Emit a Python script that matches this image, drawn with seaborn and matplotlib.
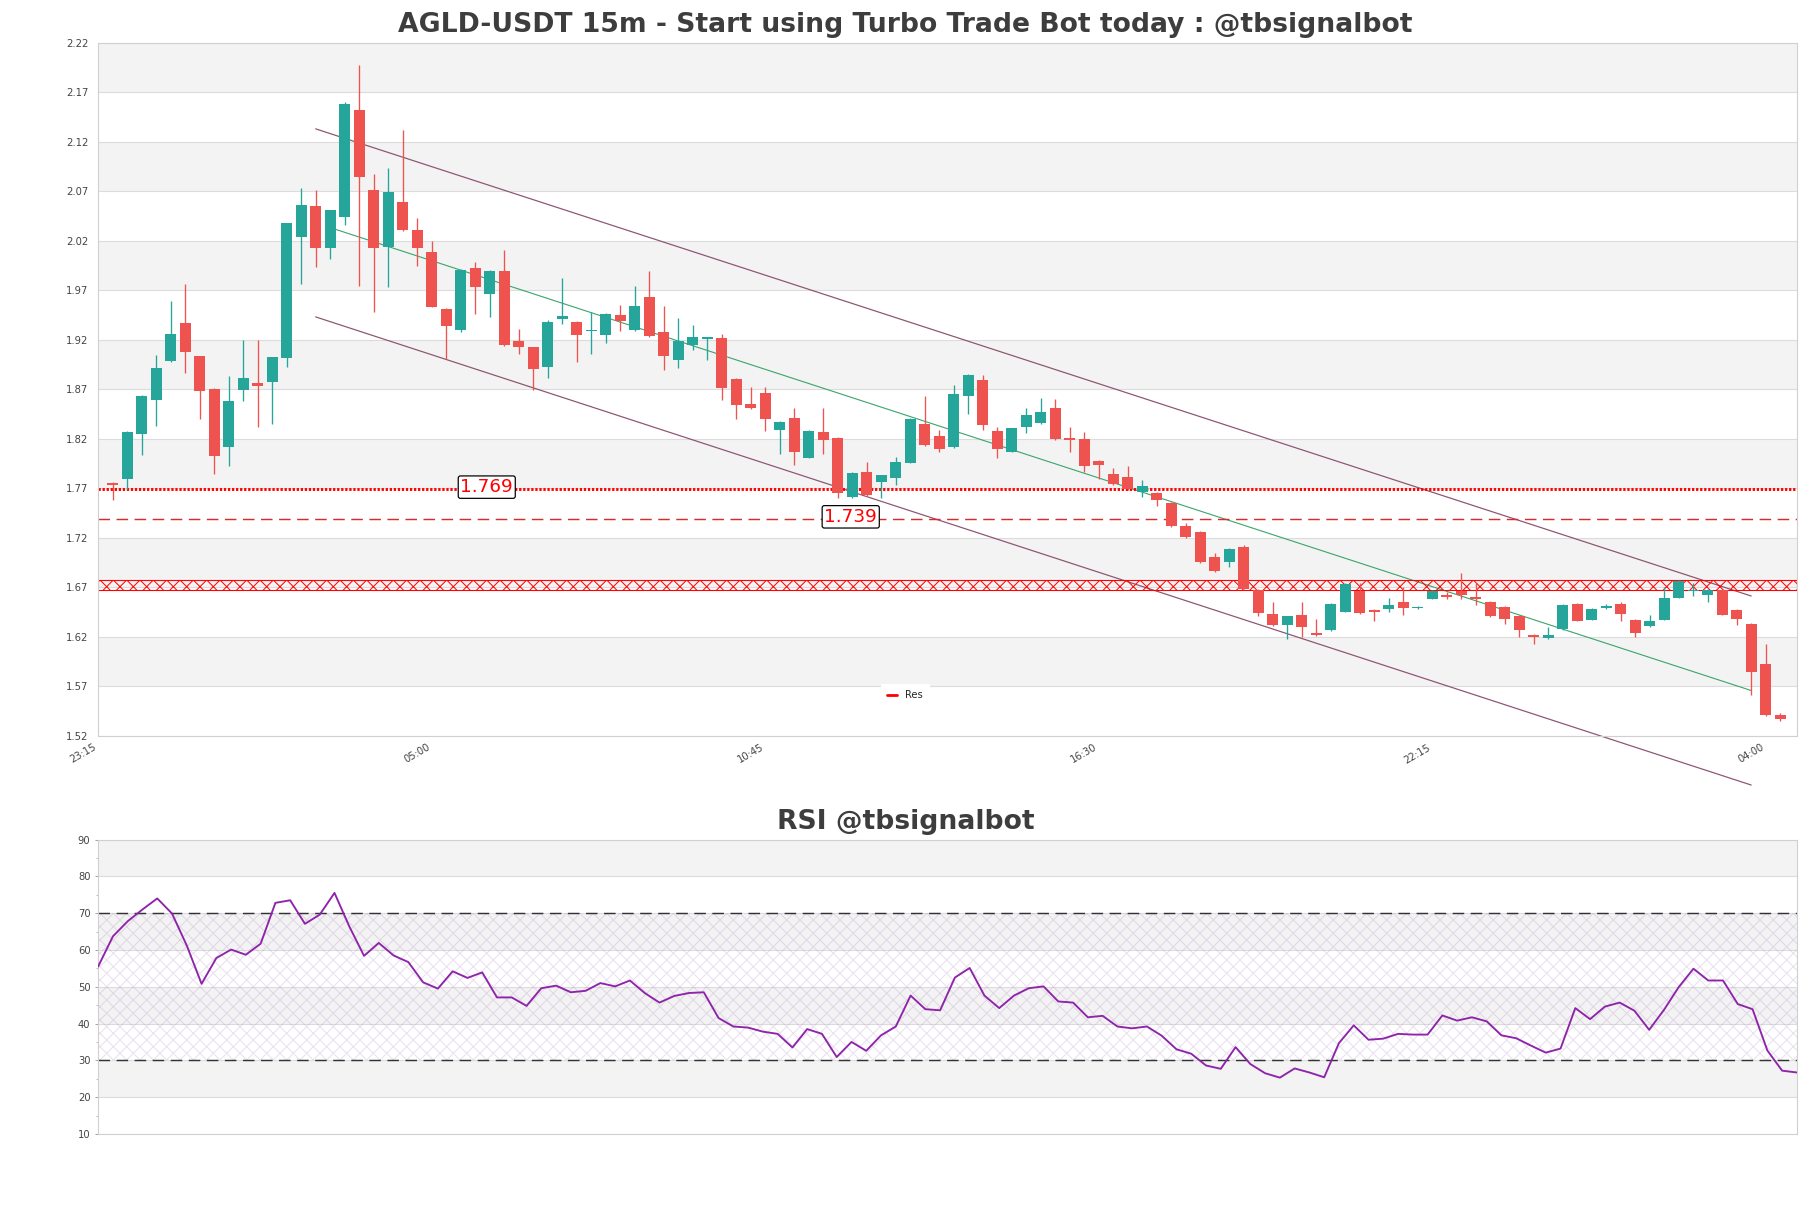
"""
AGLD-USDT 15m candle chart with channel, levels and RSI panel.
Values read off the reference picture.
"""

import numpy as np
import pandas as pd
import matplotlib
matplotlib.use("Agg")
import matplotlib.pyplot as plt
from matplotlib.lines import Line2D
import seaborn as sns

# =====================================================================
# DATA
# =====================================================================
TITLE = "AGLD-USDT 15m - Start using Turbo Trade Bot today : @tbsignalbot"
RSI_TITLE = "RSI @tbsignalbot"

opens = [1.775, 1.779, 1.825, 1.859, 1.898, 1.937, 1.903, 1.870, 1.812, 1.869,
         1.876, 1.877, 1.901, 2.024, 2.055, 2.013, 2.044, 2.152, 2.071, 2.014,
         2.059, 2.031, 2.009, 1.951, 1.930, 1.992, 1.966, 1.989, 1.919, 1.913,
         1.892, 1.941, 1.938, 1.929, 1.925, 1.945, 1.930, 1.963, 1.928, 1.899,
         1.915, 1.921, 1.922, 1.880, 1.855, 1.866, 1.829, 1.841, 1.800, 1.827,
         1.821, 1.761, 1.786, 1.776, 1.780, 1.795, 1.835, 1.823, 1.812, 1.863,
         1.879, 1.828, 1.807, 1.832, 1.836, 1.851, 1.820, 1.820, 1.797, 1.784,
         1.781, 1.766, 1.765, 1.755, 1.732, 1.726, 1.700, 1.695, 1.711, 1.667,
         1.643, 1.632, 1.642, 1.624, 1.627, 1.645, 1.666, 1.647, 1.648, 1.655,
         1.649, 1.658, 1.662, 1.666, 1.660, 1.655, 1.650, 1.641, 1.622, 1.619,
         1.628, 1.653, 1.637, 1.649, 1.653, 1.637, 1.631, 1.637, 1.659, 1.666,
         1.662, 1.667, 1.647, 1.633, 1.592, 1.541]
highs = [1.776, 1.828, 1.864, 1.905, 1.959, 1.976, 1.904, 1.871, 1.883, 1.920,
         1.920, 1.902, 2.038, 2.073, 2.071, 2.051, 2.160, 2.198, 2.087, 2.093,
         2.132, 2.043, 2.020, 1.952, 1.991, 1.998, 1.990, 2.011, 1.931, 1.913,
         1.940, 1.982, 1.939, 1.948, 1.947, 1.955, 1.974, 1.989, 1.954, 1.942,
         1.935, 1.923, 1.926, 1.881, 1.872, 1.872, 1.838, 1.851, 1.829, 1.851,
         1.822, 1.786, 1.796, 1.783, 1.801, 1.841, 1.863, 1.829, 1.874, 1.885,
         1.884, 1.832, 1.831, 1.851, 1.861, 1.860, 1.832, 1.827, 1.798, 1.790,
         1.792, 1.778, 1.766, 1.756, 1.735, 1.727, 1.704, 1.709, 1.713, 1.668,
         1.655, 1.641, 1.655, 1.638, 1.654, 1.674, 1.674, 1.648, 1.659, 1.670,
         1.651, 1.667, 1.665, 1.684, 1.674, 1.656, 1.651, 1.642, 1.623, 1.630,
         1.653, 1.654, 1.649, 1.653, 1.655, 1.638, 1.642, 1.670, 1.677, 1.674,
         1.668, 1.668, 1.648, 1.634, 1.612, 1.543]
lows = [1.758, 1.769, 1.803, 1.833, 1.897, 1.886, 1.840, 1.784, 1.792, 1.858,
        1.832, 1.835, 1.892, 1.976, 1.993, 2.002, 2.036, 1.974, 1.948, 1.973,
        2.030, 1.994, 1.953, 1.900, 1.928, 1.946, 1.943, 1.914, 1.906, 1.869,
        1.881, 1.936, 1.897, 1.906, 1.917, 1.929, 1.929, 1.923, 1.889, 1.891,
        1.910, 1.899, 1.859, 1.840, 1.850, 1.828, 1.804, 1.793, 1.800, 1.804,
        1.760, 1.760, 1.762, 1.760, 1.773, 1.795, 1.813, 1.807, 1.811, 1.845,
        1.829, 1.800, 1.807, 1.826, 1.835, 1.819, 1.807, 1.786, 1.779, 1.773,
        1.768, 1.761, 1.752, 1.731, 1.720, 1.694, 1.685, 1.690, 1.668, 1.641,
        1.631, 1.618, 1.620, 1.621, 1.626, 1.645, 1.643, 1.636, 1.645, 1.642,
        1.648, 1.658, 1.658, 1.658, 1.652, 1.640, 1.633, 1.620, 1.613, 1.618,
        1.627, 1.636, 1.637, 1.648, 1.636, 1.620, 1.630, 1.637, 1.659, 1.661,
        1.655, 1.642, 1.632, 1.561, 1.540, 1.535]
closes = [1.773, 1.827, 1.863, 1.891, 1.926, 1.908, 1.868, 1.802, 1.858, 1.881,
          1.873, 1.902, 2.038, 2.056, 2.013, 2.051, 2.158, 2.084, 2.013, 2.069,
          2.031, 2.013, 1.953, 1.934, 1.990, 1.973, 1.989, 1.915, 1.913, 1.890,
          1.938, 1.944, 1.925, 1.930, 1.946, 1.939, 1.954, 1.924, 1.904, 1.919,
          1.923, 1.922, 1.871, 1.854, 1.851, 1.840, 1.837, 1.806, 1.828, 1.819,
          1.765, 1.785, 1.763, 1.783, 1.796, 1.840, 1.814, 1.810, 1.865, 1.884,
          1.834, 1.810, 1.831, 1.844, 1.847, 1.820, 1.819, 1.792, 1.793, 1.774,
          1.769, 1.772, 1.758, 1.732, 1.721, 1.695, 1.686, 1.708, 1.668, 1.644,
          1.632, 1.641, 1.630, 1.622, 1.653, 1.673, 1.644, 1.645, 1.652, 1.649,
          1.650, 1.666, 1.660, 1.662, 1.658, 1.641, 1.638, 1.627, 1.620, 1.622,
          1.652, 1.636, 1.648, 1.651, 1.643, 1.624, 1.636, 1.659, 1.676, 1.667,
          1.667, 1.642, 1.638, 1.584, 1.541, 1.537]

rsi_values = [55.5, 63.7, 67.8, 71.0, 74.0, 69.9, 61.2, 50.8, 57.8, 60.1,
              58.7, 61.7, 72.8, 73.5, 67.1, 69.6, 75.5, 66.4, 58.4, 61.9,
              58.5, 56.7, 51.2, 49.5, 54.2, 52.4, 53.9, 47.1, 47.1, 44.8,
              49.6, 50.3, 48.5, 48.9, 51.0, 50.1, 51.7, 48.3, 45.7, 47.5,
              48.3, 48.5, 41.5, 39.2, 38.9, 37.8, 37.2, 33.5, 38.5, 37.2,
              30.9, 35.0, 32.6, 36.8, 39.2, 47.6, 43.9, 43.6, 52.5, 55.1,
              47.6, 44.2, 47.6, 49.6, 50.1, 46.0, 45.7, 41.7, 42.1, 39.2,
              38.7, 39.2, 36.7, 33.0, 31.8, 28.6, 27.7, 33.6, 29.0, 26.5,
              25.3, 27.8, 26.7, 25.4, 34.7, 39.5, 35.6, 35.9, 37.2, 37.0,
              37.0, 42.2, 40.8, 41.7, 40.6, 36.8, 36.0, 34.0, 32.1, 33.2,
              44.2, 41.2, 44.6, 45.7, 43.5, 38.3, 43.7, 49.9, 54.9, 51.7,
              51.7, 45.3, 43.9, 32.7, 27.2, 26.7]

tick_labels = ["23:15", "05:00", "10:45", "16:30", "22:15", "04:00"]

res_level = 1.769
sup_level = 1.739
zone_low, zone_high = 1.667, 1.677

# regression channel: bar index of the two ends, upper / lower price at each end
channel_idx = [14, 113]
channel_upper = [2.133, 1.661]
channel_lower = [1.943, 1.470]

# =====================================================================
# STYLE
# =====================================================================
UP = "#26a69a"
DOWN = "#ef5350"
BAND = "#f3f3f3"
GRID = "#dcdcdc"
TEXT = "#3d3d3d"
CHANNEL = "#8e5572"
MID = "#3aa56a"
RSI_COLOR = "#8e24aa"

sns.set_style("white")
plt.rcParams["font.family"] = ["DejaVu Sans"]
plt.rcParams["hatch.linewidth"] = 0.9

df = pd.DataFrame({"open": opens, "high": highs, "low": lows, "close": closes})
df["idx"] = np.arange(len(df))
df["up"] = df["close"] >= df["open"]
n = len(df)

fig = plt.figure(figsize=(1811 / 80, 1208 / 80), dpi=80)
ax = fig.add_axes([0.0542, 0.3911, 0.938, 0.5735])
ax2 = fig.add_axes([0.0542, 0.0613, 0.938, 0.2437])

# =====================================================================
# PRICE PANEL
# =====================================================================
yticks = np.round(np.arange(1.52, 2.2201, 0.05), 2)
for k in range(len(yticks) - 1):
    if (len(yticks) - 2 - k) % 2 == 0:
        ax.axhspan(yticks[k], yticks[k + 1], color=BAND, lw=0, zorder=0)

colors = np.where(df["up"], UP, DOWN)
ax.vlines(df["idx"], df["low"], df["high"], colors=colors, lw=1.2, zorder=3)
body_low = df[["open", "close"]].min(axis=1)
body_h = (df["close"] - df["open"]).abs().clip(lower=0.0012)
ax.bar(df["idx"], body_h, bottom=body_low, width=0.75, color=colors, lw=0, zorder=4)

# channel
ax.plot(channel_idx, channel_upper, color=CHANNEL, lw=1.1, zorder=2, clip_on=False)
ax.plot(channel_idx, channel_lower, color=CHANNEL, lw=1.1, zorder=2, clip_on=False)
mid = [(u + l) / 2 for u, l in zip(channel_upper, channel_lower)]
slope = (mid[1] - mid[0]) / (channel_idx[1] - channel_idx[0])
ax.plot([channel_idx[0] + 1, channel_idx[1]], [mid[0] + slope, mid[1]],
        color=MID, lw=1.0, zorder=2)

# levels
ax.axhline(res_level, color="red", lw=2.6, ls=(0, (0.8, 0.6)), zorder=2)
ax.axhline(sup_level, color="#d92b2b", lw=1.3, ls=(0, (8, 4.5)), zorder=2)
ax.axhspan(zone_low, zone_high, facecolor="none", edgecolor="red", hatch="xx",
           lw=1.0, zorder=2)

box = dict(boxstyle="round,pad=0.12", fc="white", ec="black", lw=1.1)
ax.text(25.8, res_level + 0.002, f"{res_level:.3f}", color="red", fontsize=16.5,
        ha="center", va="center", bbox=box, zorder=6)
ax.text(50.9, sup_level + 0.002, f"{sup_level:.3f}", color="red", fontsize=16.5,
        ha="center", va="center", bbox=box, zorder=6)

ax.set_xlim(-0.95, n + 0.15)
ax.set_ylim(yticks[0], yticks[-1])
ax.set_yticks(yticks)
ax.set_yticklabels([f"{v:.2f}" for v in yticks])
ax.set_xticks(np.arange(-1, n, 23))
ax.set_xticklabels(tick_labels, rotation=30, ha="right")
ax.grid(axis="y", color=GRID, lw=1.0)
ax.set_axisbelow(True)
ax.tick_params(axis="y", length=0, pad=9, labelsize=9, labelcolor="#444444")
ax.tick_params(axis="x", length=3, color="#bbbbbb", pad=3, labelsize=9,
               labelcolor="#444444")
for s in ax.spines.values():
    s.set_color("#d0d0d0")
    s.set_linewidth(1.0)

handle = Line2D([0], [0], color="red", lw=2.5)
leg = ax.legend([handle], ["Res"], loc="lower center", bbox_to_anchor=(0.475, 0.035),
                fontsize=9, handlelength=1.0, frameon=True, framealpha=1,
                fancybox=False, borderpad=0.6)
leg.get_frame().set_edgecolor("white")

# =====================================================================
# RSI PANEL
# =====================================================================
rticks = np.arange(10, 91, 10)
for k in range(len(rticks) - 1):
    if k % 2 == 1:
        ax2.axhspan(rticks[k], rticks[k + 1], color=BAND, lw=0, zorder=0)
ax2.axhspan(30, 70, facecolor="none", edgecolor=(0.62, 0.45, 0.72, 0.22),
            hatch="xx", lw=0, zorder=1)
ax2.axhline(70, color="#333333", lw=1.3, ls=(0, (8, 4.5)), zorder=2)
ax2.axhline(30, color="#333333", lw=1.3, ls=(0, (8, 4.5)), zorder=2)

sns.lineplot(x=df["idx"], y=rsi_values, ax=ax2, color=RSI_COLOR, lw=1.7, zorder=3)

ax2.set_xlim(0, n - 1)
ax2.set_ylim(10, 90)
ax2.set_yticks(rticks)
ax2.set_yticks(np.arange(15, 90, 10), minor=True)
ax2.set_xticks([])
ax2.set_xlabel("")
ax2.set_ylabel("")
ax2.grid(axis="y", color=GRID, lw=1.0)
ax2.set_axisbelow(True)
ax2.tick_params(axis="y", which="both", left=True, length=3, color="#999999",
                pad=4, labelsize=9, labelcolor="#444444")
ax2.tick_params(axis="y", which="minor", length=2)
for s in ax2.spines.values():
    s.set_color("#d0d0d0")
    s.set_linewidth(1.0)

# titles are centred on the figure, not on the axes
fig.text(0.5, 1 - 31.7 / 1208, TITLE, fontsize=24, fontweight="bold", color=TEXT,
         ha="center", va="baseline")
fig.text(0.5, 1 - 829.3 / 1208, RSI_TITLE, fontsize=24, fontweight="bold",
         color=TEXT, ha="center", va="baseline")

fig.savefig("out.png", dpi=80, facecolor="white")
